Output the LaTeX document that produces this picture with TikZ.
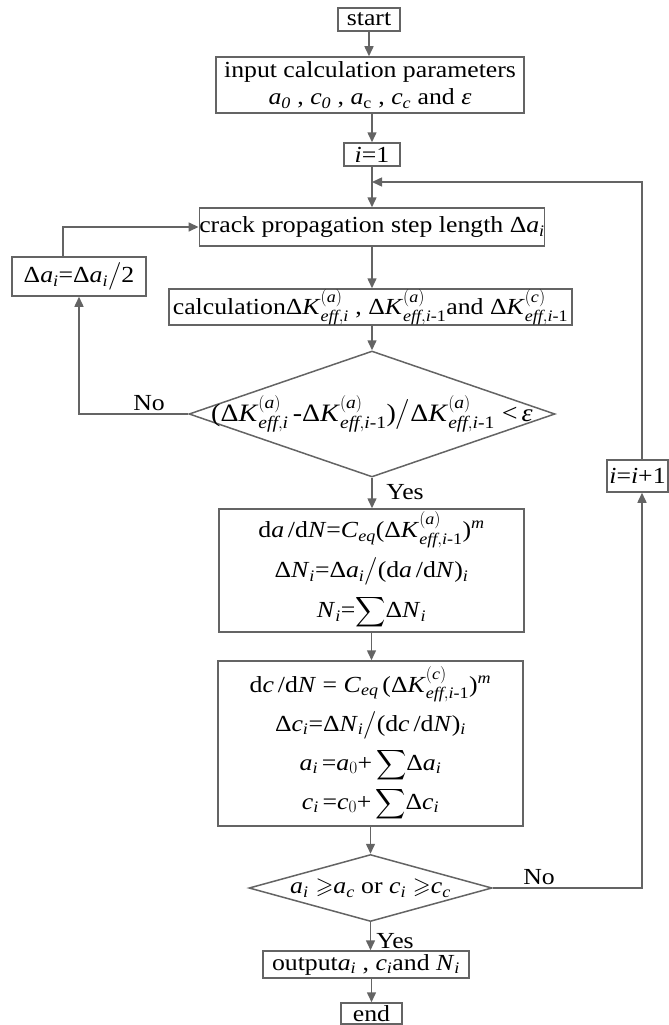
\documentclass[tikz,border=0pt]{standalone}
\usepackage{amsmath,amssymb}
\usepackage{fontspec}
\setmainfont{Liberation Serif}[FakeStretch=1.12]
\usetikzlibrary{arrows.meta,shapes.geometric}
\definecolor{lg}{RGB}{100,100,100}
% italic letters taken from the text font
\newcommand{\mi}[1]{\textit{#1}}
\newcommand{\imo}{\mi{i}\text{-1}}
% effective stress intensity factor range
\newcommand{\Kf}[2]{Δ\mi{K}$^{(\mi{#1})}_{\mi{eff},#2}$}
\newcommand{\bigsum}{{\fontsize{21}{21}\selectfont$\displaystyle\sum$}}
\newcommand{\fs}{\fontsize{23}{27}\selectfont}
\begin{document}
\begin{tikzpicture}[x=1pt,y=-1pt,
  box/.style={draw=lg,line width=1.5pt,rectangle,inner sep=0pt,align=center,font=\fs},
  dia/.style={draw=lg,line width=1.5pt,diamond,inner sep=0pt},
  arr/.style={draw=lg,line width=1.5pt,-{Triangle[length=10pt,width=9pt]}},
  lbl/.style={inner sep=0pt,font=\fs}]
\useasboundingbox (0,0) rectangle (669,1025);

% process boxes
\node[box,minimum width=62pt,minimum height=23pt] (start) at (369,19.5) {start};
\node[box,minimum width=308pt,minimum height=56pt] (input) at (370,85)
  {input calculation parameters\\
   \mi{a}$_{\mi{0}}$ , \mi{c}$_{\mi{0}}$ , \mi{a}$_{\text{c}}$ , \mi{c}$_{\mi{c}}$ and \mi{ε}};
\node[box,minimum width=56pt,minimum height=23pt] (i1) at (372,154.5) {\mi{i}=1};
\node[box,minimum width=342pt,minimum height=38pt] (crack) at (372,227)
  {crack propagation step length Δ\mi{a}$_{\mi{i}}$};
\node[box,minimum width=134pt,minimum height=39pt] (half) at (79,276.5)
  {Δ\mi{a}$_{\mi{i}}$=Δ\mi{a}$_{\mi{i}}\big/$2};
\node[box,minimum width=403pt,minimum height=36pt] (calc) at (370.5,307)
  {calculation\Kf{a}{\mi{i}} , \Kf{a}{\imo}and \Kf{c}{\imo}};

% convergence check
\node[dia,minimum width=366pt,minimum height=126pt] (d1) at (372,414) {};
\node[lbl,font=\fontsize{25}{29}\selectfont] (d1t) at (d1.center)
  {(\Kf{a}{\mi{i}}\,-\Kf{a}{\imo})$\big/$\Kf{a}{\imo}\;<\,\mi{ε}};

% crack growth update
\node[box,minimum width=305pt,minimum height=123pt,font=\fontsize{23}{40}\selectfont] (b1) at (371.5,570.5)
  {d\mi{a}\,/d\mi{N}=\mi{C}$_{\mi{eq}}$(\Kf{a}{\imo})$^{\mi{m}}$\\
   Δ\mi{N}$_{\mi{i}}$=Δ\mi{a}$_{\mi{i}}\big/$(d\mi{a}\,/d\mi{N})$_{\mi{i}}$\\
   \mi{N}$_{\mi{i}}$=\bigsum Δ\mi{N}$_{\mi{i}}$};
\node[box,minimum width=305pt,minimum height=165pt,font=\fontsize{23}{39}\selectfont] (b2) at (370.5,743.5)
  {d\mi{c}\,/d\mi{N} = \mi{C}$_{\mi{eq}}$\,(\Kf{c}{\imo})$^{\mi{m}}$\\
   Δ\mi{c}$_{\mi{i}}$=Δ\mi{N}$_{\mi{i}}\big/$(d\mi{c}\,/d\mi{N})$_{\mi{i}}$\\
   \mi{a}$_{\mi{i}}$\,=\mi{a}$_0$+\,\bigsum Δ\mi{a}$_{\mi{i}}$\\
   \mi{c}$_{\mi{i}}$\,=\mi{c}$_0$+\,\bigsum Δ\mi{c}$_{\mi{i}}$};

% termination check
\node[dia,minimum width=243pt,minimum height=67pt] (d2) at (370.5,888) {};
\node[lbl] (d2t) at (d2.center)
  {\mi{a}$_{\mi{i}}\geqslant$\mi{a}$_{\mi{c}}$ or \mi{c}$_{\mi{i}}\geqslant$\mi{c}$_{\mi{c}}$};
\node[box,minimum width=206pt,minimum height=27pt] (out) at (366,964.5)
  {output\mi{a}$_{\mi{i}}$ , \mi{c}$_{\mi{i}}$and \mi{N}$_{\mi{i}}$};
\node[box,minimum width=61pt,minimum height=21pt] (end) at (371.5,1013.5) {end};
\node[box,minimum width=61pt,minimum height=32pt] (inc) at (637.5,476) {\mi{i}=\mi{i}+1};

% loop helpers
\coordinate (rx) at (642,0);
\coordinate (join) at (372,182);

% main flow
\draw[arr] (start.south) -- (start.south |- input.north);
\draw[arr] (input.south -| i1.north) -- (i1.north);
\draw[arr] (i1.south) -- (crack.north);
\draw[arr] (crack.south) -- (crack.south |- calc.north);
\draw[arr] (calc.south -| d1.north) -- (d1.north);
\draw[arr] (d1.south) -- (d1.south |- b1.north);
\draw[arr] (b1.south) -- (b1.south |- b2.north);
\draw[arr] (b2.south -| d2.north) -- (d2.north);
\draw[arr] (d2.south) -- (d2.south |- out.north);
\draw[arr] (out.south -| end.north) -- (end.north);

% step halving branch
\draw[arr] (d1.west) -| (half.south);
\draw[arr] ([xshift=-16pt]half.north) |- (crack.west);

% next increment branch
\draw[arr] (d2.east) -| (inc.south -| rx);
\draw[arr] (inc.north -| rx) |- (join);

% branch labels
\node[lbl] (no1) at (149,403) {No};
\node[lbl] (yes1) at (405,492) {Yes};
\node[lbl] (no2) at (539,877) {No};
\node[lbl] (yes2) at (395,941) {Yes};
\end{tikzpicture}
\end{document}
